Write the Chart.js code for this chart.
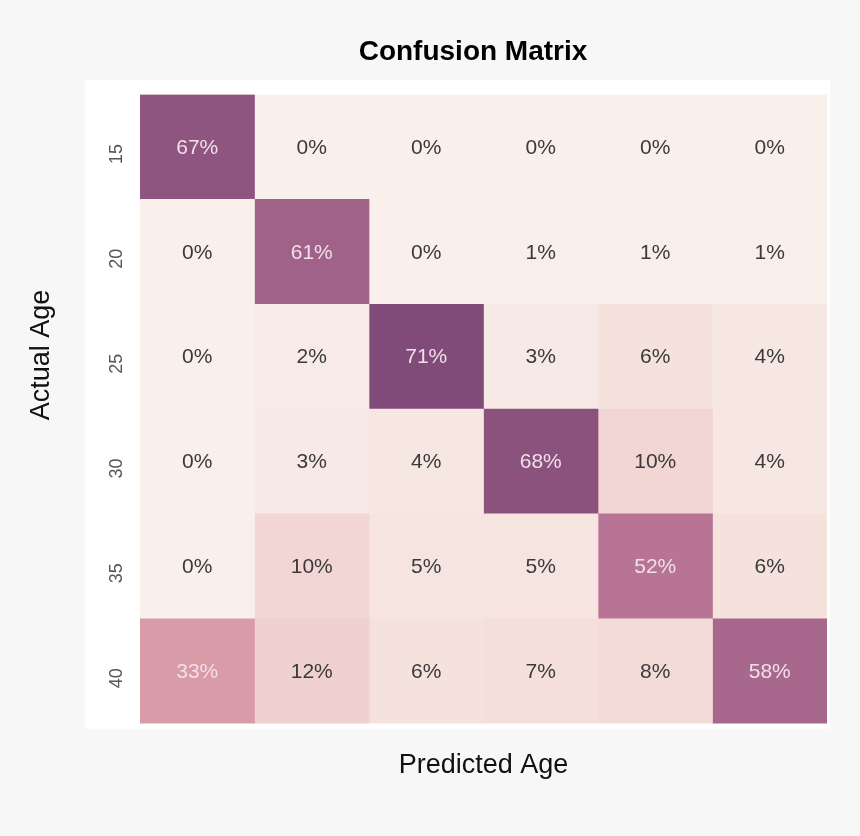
<!DOCTYPE html>
<html>
<head>
<meta charset="utf-8">
<script src="https://cdn.jsdelivr.net/npm/chart.js@4.4.1/dist/chart.umd.min.js"></script>
<style>
  html, body { margin: 0; padding: 0; background: #f7f7f7; }
  #wrap { width: 860px; height: 836px; }
</style>
</head>
<body>
<div id="wrap"><canvas id="c" width="860" height="836"></canvas></div>
<script>
// ---- data ----
const actualAges = ['15', '20', '25', '30', '35', '40'];
const predictedAges = ['15', '20', '25', '30', '35', '40'];
const row15 = [67, 0, 0, 0, 0, 0];
const row20 = [0, 61, 0, 1, 1, 1];
const row25 = [0, 2, 71, 3, 6, 4];
const row30 = [0, 3, 4, 68, 10, 4];
const row35 = [0, 10, 5, 5, 52, 6];
const row40 = [33, 12, 6, 7, 8, 58];
const matrix = [row15, row20, row25, row30, row35, row40];

// ---- colour map (value -> colour) ----
const cmapStops = [
  [0,  [249, 240, 236]],
  [3,  [247, 233, 229]],
  [6,  [245, 226, 221]],
  [10, [241, 214, 211]],
  [33, [217, 155, 168]],
  [52, [184, 116, 148]],
  [61, [160, 98, 137]],
  [67, [142, 85, 128]],
  [71, [128, 74, 121]]
];
function colorFor(v) {
  for (let k = 1; k < cmapStops.length; k++) {
    const [v1, c1] = cmapStops[k];
    const [v0, c0] = cmapStops[k - 1];
    if (v <= v1) {
      const t = (v - v0) / (v1 - v0);
      const c = c0.map((a, i) => Math.round(a + (c1[i] - a) * t));
      return `rgb(${c[0]},${c[1]},${c[2]})`;
    }
  }
  const c = cmapStops[cmapStops.length - 1][1];
  return `rgb(${c[0]},${c[1]},${c[2]})`;
}

// one dataset per predicted column; floating bars span the column slot
const datasets = predictedAges.map((p, j) => ({
  label: p,
  data: actualAges.map(() => [j, j + 1]),
  backgroundColor: actualAges.map((a, i) => colorFor(matrix[i][j])),
  borderWidth: 0,
  borderSkipped: false,
  grouped: false,
  categoryPercentage: 1.0,
  barPercentage: 1.0
}));

const bgPlugin = {
  id: 'bg',
  beforeDraw(chart) {
    const { ctx, chartArea: a } = chart;
    ctx.save();
    ctx.fillStyle = '#f7f7f7';
    ctx.fillRect(0, 0, chart.width, chart.height);
    ctx.fillStyle = '#ffffff';
    ctx.fillRect(a.left - 55, a.top - 15, (a.right + 3) - (a.left - 55), (a.bottom + 5) - (a.top - 15));
    ctx.restore();
  }
};

const labelPlugin = {
  id: 'cellLabels',
  afterDatasetsDraw(chart) {
    const { ctx } = chart;
    ctx.save();
    ctx.font = '21px "Liberation Sans", Arial, sans-serif';
    ctx.textAlign = 'center';
    ctx.textBaseline = 'middle';
    chart.data.datasets.forEach((ds, j) => {
      const meta = chart.getDatasetMeta(j);
      meta.data.forEach((el, i) => {
        const v = matrix[i][j];
        const p = el.getCenterPoint();
        ctx.fillStyle = v >= 30 ? '#f1dfe9' : '#3a3a3a';
        ctx.fillText(v + '%', p.x, p.y + 1);
      });
    });
    ctx.restore();
  }
};

const yTitlePlugin = {
  id: 'yTitle',
  afterDraw(chart) {
    const { ctx } = chart;
    ctx.save();
    ctx.translate(42, 355);
    ctx.rotate(-Math.PI / 2);
    ctx.font = '27px "Liberation Sans", Arial, sans-serif';
    ctx.fillStyle = '#111111';
    ctx.textAlign = 'center';
    ctx.textBaseline = 'middle';
    ctx.fillText('Actual Age', 0, 0);
    ctx.restore();
  }
};

new Chart(document.getElementById('c'), {
  type: 'bar',
  data: { labels: actualAges, datasets },
  options: {
    indexAxis: 'y',
    responsive: false,
    animation: false,
    devicePixelRatio: 1,
    layout: { padding: { left: 119, right: 33, top: 0, bottom: 44 } },
    plugins: {
      legend: { display: false },
      tooltip: { enabled: false },
      title: {
        display: true,
        text: 'Confusion Matrix',
        color: '#000000',
        font: { family: '"Liberation Sans", Arial, sans-serif', size: 28, weight: 'bold', lineHeight: 1.2 },
        padding: { top: 35, bottom: 26 }
      }
    },
    scales: {
      x: {
        type: 'linear',
        min: 0,
        max: 6,
        grid: { display: false, drawTicks: false },
        border: { display: false },
        ticks: { display: false },
        title: {
          display: true,
          text: 'Predicted Age',
          color: '#111111',
          font: { family: '"Liberation Sans", Arial, sans-serif', size: 27, lineHeight: 1.2 },
          padding: { top: 26, bottom: 10 }
        }
      },
      y: {
        type: 'category',
        offset: true,
        grid: { display: false, drawTicks: false },
        border: { display: false },
        ticks: {
          color: '#555555',
          font: { family: '"Liberation Sans", Arial, sans-serif', size: 18 },
          minRotation: 90,
          maxRotation: 90,
          mirror: true,
          crossAlign: 'center',
          padding: -33,
          labelOffset: 7
        },
        afterFit(scale) { scale.width = 21; }
      }
    }
  },
  plugins: [bgPlugin, labelPlugin, yTitlePlugin]
});
</script>
</body>
</html>
